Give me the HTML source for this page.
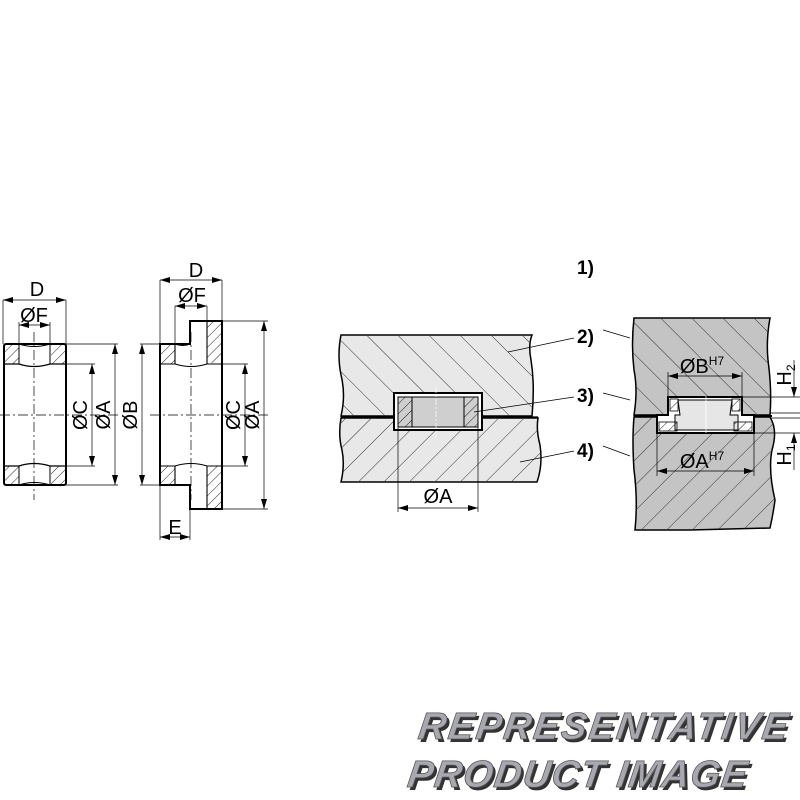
<!DOCTYPE html>
<html><head><meta charset="utf-8"><style>html,body{margin:0;padding:0;background:#fff}svg{display:block}</style></head><body>
<svg width="800" height="800" viewBox="0 0 800 800" xmlns="http://www.w3.org/2000/svg" font-family="Liberation Sans, sans-serif">
<defs>
<pattern id="hs" patternUnits="userSpaceOnUse" width="7" height="7" patternTransform="rotate(45)"><line x1="0" y1="0" x2="0" y2="7" stroke="#222" stroke-width="1"/></pattern>
<pattern id="hb" patternUnits="userSpaceOnUse" width="22" height="22" patternTransform="rotate(-45)"><line x1="0" y1="0" x2="0" y2="22" stroke="#333" stroke-width="1"/></pattern>
<pattern id="hf" patternUnits="userSpaceOnUse" width="18" height="18" patternTransform="rotate(45)"><line x1="0" y1="0" x2="0" y2="18" stroke="#333" stroke-width="1"/></pattern>
<marker id="ar" markerWidth="10" markerHeight="6" refX="10" refY="3" orient="auto" markerUnits="userSpaceOnUse"><path d="M0,0 L10,3 L0,6z" fill="#000"/></marker>
<marker id="al" markerWidth="10" markerHeight="6" refX="0" refY="3" orient="auto" markerUnits="userSpaceOnUse"><path d="M10,0 L0,3 L10,6z" fill="#000"/></marker>
</defs>
<g stroke="#000" fill="none">
<rect x="4" y="344" width="62" height="141" fill="#fff" stroke-width="2" rx="2"/>
<rect x="5" y="345" width="14" height="19" fill="url(#hs)" stroke="none"/>
<rect x="51" y="345" width="14" height="19" fill="url(#hs)" stroke="none"/>
<rect x="5" y="466" width="14" height="18" fill="url(#hs)" stroke="none"/>
<rect x="51" y="466" width="14" height="18" fill="url(#hs)" stroke="none"/>
<path d="M4,364 H19 Q34,369 50,364 H66 M4,466 H19 Q34,461 50,466 H66" stroke-width="1.2"/>
<path d="M19,344 V364 M50,344 V364 M19,466 V485 M50,466 V485 M19,344 Q34,349 50,344 M19,485 Q34,480 50,485" stroke-width="1"/>
<g stroke-width="0.7">
<path d="M3,300 V344 M66,300 V344 M19,322 V344 M50,322 V344 M66,344 H118 M66,485 H118 M66,364 H95 M66,466 H95"/>
<path d="M34,332 V500" stroke-dasharray="10,3,2,3"/>
<path d="M0,415 H120" stroke-dasharray="10,3,2,3"/>
<line x1="3" y1="300" x2="66" y2="300" marker-start="url(#al)" marker-end="url(#ar)"/>
<line x1="19" y1="325" x2="50" y2="325" marker-start="url(#al)" marker-end="url(#ar)"/>
<line x1="92" y1="364" x2="92" y2="466" marker-start="url(#al)" marker-end="url(#ar)"/>
<line x1="115" y1="344" x2="115" y2="485" marker-start="url(#al)" marker-end="url(#ar)"/>
</g>
<path d="M160,344 H190 V321 H222 V509 H190 V485 H160 Z" fill="#fff" stroke-width="2"/>
<rect x="207" y="322" width="14" height="41" fill="url(#hs)" stroke="none"/>
<rect x="207" y="466" width="14" height="42" fill="url(#hs)" stroke="none"/>
<rect x="161" y="345" width="14" height="19" fill="url(#hs)" stroke="none"/>
<rect x="161" y="466" width="14" height="18" fill="url(#hs)" stroke="none"/>
<path d="M160,364 H175 Q191,369 207,364 H222 M160,466 H175 Q191,461 207,466 H222 M175,344 V364 M207,321 V364 M175,466 V485 M207,466 V509 M175,344 Q183,347 190,344" stroke-width="1.1"/>
<g stroke-width="0.7">
<path d="M160,280 V344 M222,280 V321 M175,306 V344 M207,306 V321 M222,321 H268 M222,509 H268 M222,364 H248 M222,466 H248 M140,344 H160 M140,485 H160 M160,485 V540 M190,509 V540"/>
<path d="M191,332 V500" stroke-dasharray="10,3,2,3"/>
<path d="M150,415 H270" stroke-dasharray="10,3,2,3"/>
<line x1="160" y1="280" x2="222" y2="280" marker-start="url(#al)" marker-end="url(#ar)"/>
<line x1="175" y1="306" x2="207" y2="306" marker-start="url(#al)" marker-end="url(#ar)"/>
<line x1="142" y1="344" x2="142" y2="485" marker-start="url(#al)" marker-end="url(#ar)"/>
<line x1="245" y1="364" x2="245" y2="466" marker-start="url(#al)" marker-end="url(#ar)"/>
<line x1="264" y1="321" x2="264" y2="509" marker-start="url(#al)" marker-end="url(#ar)"/>
<line x1="160" y1="537" x2="190" y2="537" marker-start="url(#al)" marker-end="url(#ar)"/>
</g>
<path d="M341,335 H532 Q528,345 531,360 Q535,385 532,416 H341 Q346,395 341,375 Q337,355 341,335Z" fill="#e8e8e8" stroke-width="1.5"/>
<path d="M341,335 H532 Q528,345 531,360 Q535,385 532,416 H341 Q346,395 341,375 Q337,355 341,335Z" fill="url(#hb)" stroke="none"/>
<path d="M341,418 H538 Q536,430 540,445 Q543,465 537,482 H341 Q345,465 342,450 Q338,435 341,418Z" fill="#e8e8e8" stroke-width="1.5"/>
<path d="M341,418 H538 Q536,430 540,445 Q543,465 537,482 H341 Q345,465 342,450 Q338,435 341,418Z" fill="url(#hf)" stroke="none"/>
<rect x="394" y="393" width="88" height="37" fill="#fff" stroke-width="2"/>
<rect x="398" y="397" width="80" height="30" fill="#cfcfcf" stroke-width="1"/>
<rect x="398" y="397" width="14" height="30" fill="url(#hs)" stroke-width="1"/>
<rect x="464" y="397" width="14" height="30" fill="url(#hs)" stroke-width="1"/>
<path d="M341,417 H394 M482,417 H538" stroke-width="1.2"/>
<g stroke-width="0.7">
<path d="M436,387 V438" stroke="#fff" stroke-dasharray="6,2,2,2"/>
<path d="M398,427 V512 M478,427 V512"/>
<line x1="398" y1="508" x2="478" y2="508" marker-start="url(#al)" marker-end="url(#ar)"/>
<path d="M574,338 L508,352 M574,397 L474,412 M574,451 L520,462 M630,338 L603,330 M630,400 L603,393 M630,456 L603,446"/>
</g>
<path d="M634,318 H770 Q766,340 768,360 Q772,390 770,415 H634 Q638,390 634,370 Q631,345 634,318Z" fill="#c4c4c4" stroke-width="1.5"/>
<path d="M634,318 H770 Q766,340 768,360 Q772,390 770,415 H634 Q638,390 634,370 Q631,345 634,318Z" fill="url(#hb)" stroke="none"/>
<path d="M634,417 H770 Q778,430 772,450 Q768,470 775,500 Q773,515 770,528 L690,530 H635 Q638,500 634,470 Q632,440 634,417Z" fill="#c4c4c4" stroke-width="1.5"/>
<path d="M634,417 H770 Q778,430 772,450 Q768,470 775,500 Q773,515 770,528 L690,530 H635 Q638,500 634,470 Q632,440 634,417Z" fill="url(#hf)" stroke="none"/>
<path d="M668,397 H742 V415 H754 V433 H657 V415 H668 Z" fill="#fff" stroke-width="2"/>
<path d="M678,400 H732 L730,415 L738,415 V430 H675 V415 H680Z" fill="#e6e6e6" stroke-width="1"/>
<rect x="659" y="422" width="18" height="9" fill="url(#hs)" stroke-width="0.8"/>
<rect x="734" y="422" width="18" height="9" fill="url(#hs)" stroke-width="0.8"/>
<rect x="670" y="399" width="8" height="12" fill="url(#hs)" stroke-width="0.8"/>
<rect x="732" y="399" width="8" height="12" fill="url(#hs)" stroke-width="0.8"/>
<path d="M634,416 H657 M754,416 H772" stroke-width="2"/>
<g stroke-width="0.7">
<path d="M706,396 V433" stroke="#fff"/>
<path d="M668,372 V397 M742,372 V397 M657,433 V476 M754,433 V476 M742,397 H800 M754,433 H800 M770,413 H800 M770,418 H800"/>
<line x1="668" y1="376" x2="742" y2="376" marker-start="url(#al)" marker-end="url(#ar)"/>
<line x1="657" y1="471" x2="754" y2="471" marker-start="url(#al)" marker-end="url(#ar)"/>
<line x1="794" y1="360" x2="794" y2="397" marker-end="url(#ar)"/>
<line x1="794" y1="470" x2="794" y2="433" marker-end="url(#ar)"/>
</g>
</g>
<g font-size="20" fill="#000" text-anchor="middle">
<text x="37" y="296">D</text>
<text x="34" y="322">ØF</text>
<text x="196" y="277">D</text>
<text x="192" y="302">ØF</text>
<text x="175" y="534">E</text>
<text x="87" y="415" transform="rotate(-90 87 415)">ØC</text>
<text x="110" y="415" transform="rotate(-90 110 415)">ØA</text>
<text x="137" y="415" transform="rotate(-90 137 415)">ØB</text>
<text x="240" y="415" transform="rotate(-90 240 415)">ØC</text>
<text x="259" y="415" transform="rotate(-90 259 415)">ØA</text>
<text x="438" y="503">ØA</text>
<text x="702" y="373">ØB<tspan font-size="12" dy="-8">H7</tspan></text>
<text x="702" y="468">ØA<tspan font-size="12" dy="-8">H7</tspan></text>
<text x="791" y="375" transform="rotate(-90 791 375)">H<tspan font-size="12" dy="4">2</tspan></text>
<text x="791" y="455" transform="rotate(-90 791 455)">H<tspan font-size="12" dy="4">1</tspan></text>
</g>
<g font-size="19" font-weight="bold" fill="#000">
<text x="577" y="274">1)</text>
<text x="577" y="343">2)</text>
<text x="577" y="402">3)</text>
<text x="577" y="457">4)</text>
</g>
<g font-size="38" font-weight="bold" font-style="italic" letter-spacing="1" style="transform:skewX(-8deg)">
<text x="521" y="739" fill="#333" transform="translate(3,3)" textLength="370">REPRESENTATIVE</text>
<text x="521" y="739" fill="#a8a9b0" stroke="#555" stroke-width="0.8" textLength="370">REPRESENTATIVE</text>
<text x="517" y="787" fill="#333" transform="translate(3,3)" textLength="340">PRODUCT  IMAGE</text>
<text x="517" y="787" fill="#a8a9b0" stroke="#555" stroke-width="0.8" textLength="340">PRODUCT  IMAGE</text>
</g>
</svg>
</body></html>
